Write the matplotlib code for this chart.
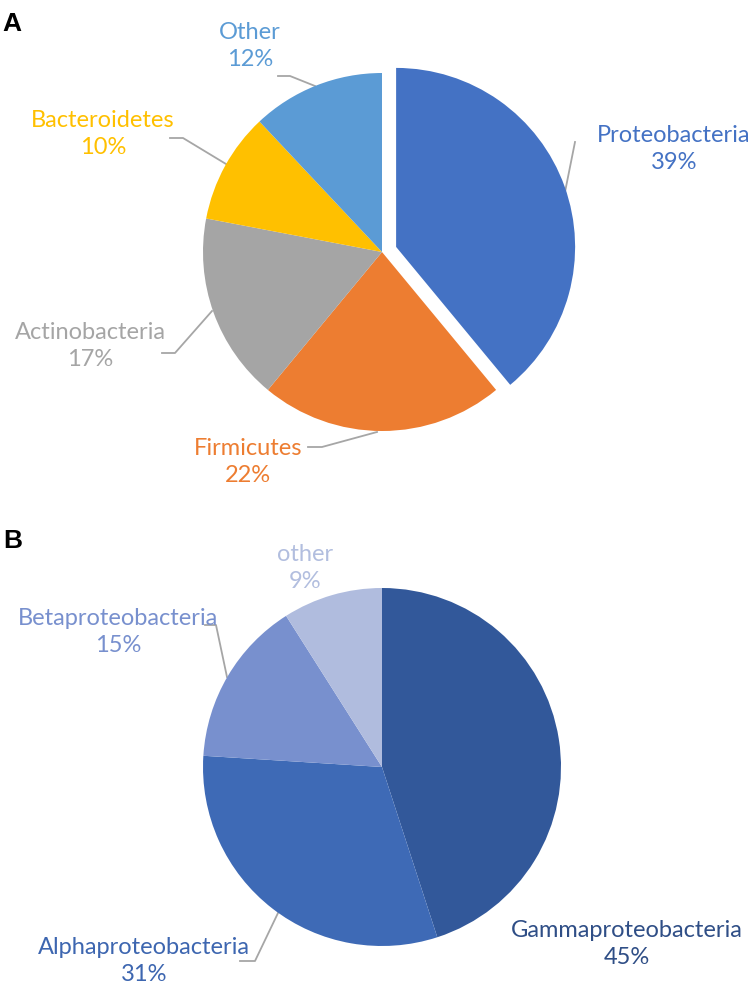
import matplotlib.pyplot as plt
import numpy as np

# panel A - phyla
phyla = ['Proteobacteria', 'Firmicutes', 'Actinobacteria', 'Bacteroidetes', 'Other']
phyla_pct = [39, 22, 17, 10, 12]
phyla_colors = ['#4472C4', '#ED7D31', '#A5A5A5', '#FFC000', '#5B9BD5']

# panel B - proteobacteria classes
classes = ['Gammaproteobacteria', 'Alphaproteobacteria', 'Betaproteobacteria', 'other']
classes_pct = [45, 31, 15, 9]
classes_colors = ['#32589A', '#3E6AB6', '#7890CE', '#B0BCDE']
classes_text = ['#2F4E86', '#3D66B0', '#7890CE', '#B2BEDF']

W, H = 753, 984
plt.rcParams['font.family'] = ['Lato', 'DejaVu Sans']

fig = plt.figure(figsize=(W / 100, H / 100), dpi=100)
fig.set_facecolor('white')
ax = fig.add_axes([0, 0, 1, 1])

def Y(y):
    return H - y

R = 179
lead = '#A6A6A6'

# pie A (Proteobacteria pulled out)
ax.pie(phyla_pct, colors=phyla_colors, startangle=90, counterclock=False,
       center=(382, Y(252)), radius=R, explode=[15, 0, 0, 0, 0],
       wedgeprops=dict(linewidth=0))

# pie B
ax.pie(classes_pct, colors=classes_colors, startangle=90, counterclock=False,
       center=(382, Y(767)), radius=R, wedgeprops=dict(linewidth=0))

ax.set_xlim(0, W)
ax.set_ylim(0, H)
ax.set_aspect('equal')
ax.axis('off')

fs = 17
ls = 1.38
# labels A
pos_a = [(674, 149), (248, 462), (90, 346), (103, 134), (250, 46)]
for name, p, c, (x, y) in zip(phyla, phyla_pct, phyla_colors, pos_a):
    ax.text(x, Y(y), '{}\n{}%'.format(name, p), color=c, fontsize=fs,
            ha='center', va='center', multialignment='center', linespacing=ls)

# labels B
pos_b = [(627, 944), (144, 961), (118, 632), (305, 568)]
for name, p, c, (x, y) in zip(classes, classes_pct, classes_text, pos_b):
    ax.text(x, Y(y), '{}\n{}%'.format(name, p), color=c, fontsize=fs,
            ha='center', va='center', multialignment='center', linespacing=ls)

# leader lines
leaders = [
    [(575, 142), (565, 192)],
    [(308, 447), (322, 447), (377, 432)],
    [(162, 353), (175, 353), (212, 311)],
    [(170, 138), (183, 138), (226, 164)],
    [(278, 76), (290, 76), (315, 86)],
    [(205, 625), (216, 625), (227, 677)],
    [(240, 961), (255, 961), (278, 913)],
]
for pts in leaders:
    xs = [p[0] for p in pts]
    ys = [Y(p[1]) for p in pts]
    ax.plot(xs, ys, color=lead, lw=1.3, zorder=0.5)

ax.text(2, Y(24), 'A', fontsize=19, fontweight='bold', family='Liberation Sans',
        ha='left', va='center')
ax.text(3, Y(541), 'B', fontsize=19, fontweight='bold', family='Liberation Sans',
        ha='left', va='center')

fig.savefig('out.png', dpi=100, facecolor='white')
